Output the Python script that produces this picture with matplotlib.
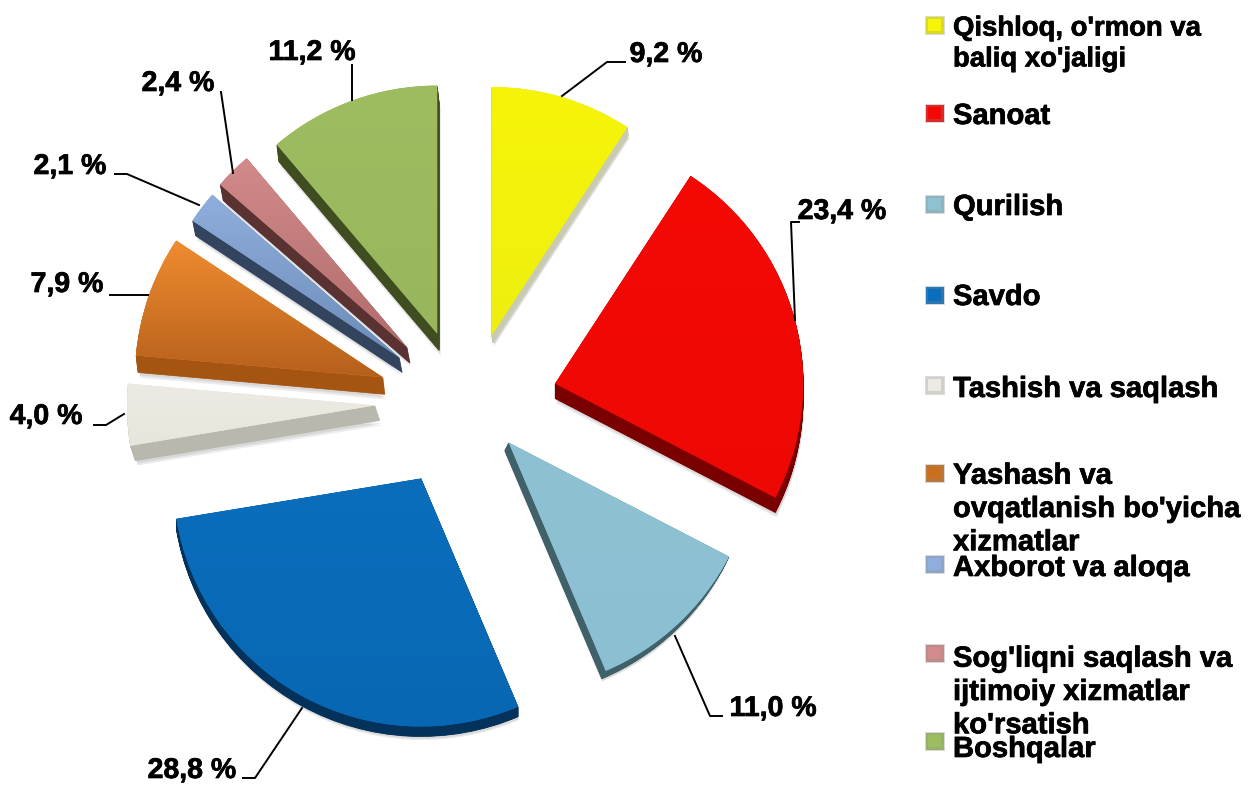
import numpy as np
import matplotlib
matplotlib.use("Agg")
import matplotlib.pyplot as plt
import matplotlib.patheffects as pe
from matplotlib.colors import LinearSegmentedColormap, to_rgb
from matplotlib.patches import Wedge, Rectangle

plt.rcParams["font.family"] = ["Liberation Sans", "DejaVu Sans"]

# data
sectors = ["Qishloq, o'rmon va\nbaliq xo'jaligi", "Sanoat", "Qurilish", "Savdo",
           "Tashish va saqlash", "Yashash va\novqatlanish bo'yicha\nxizmatlar",
           "Axborot va aloqa", "Sog'liqni saqlash va\nijtimoiy xizmatlar\nko'rsatish",
           "Boshqalar"]
shares = [9.2, 23.4, 11.0, 28.8, 4.0, 7.9, 2.1, 2.4, 11.2]
share_labels = ["9,2 %", "23,4 %", "11,0 %", "28,8 %", "4,0 %", "7,9 %", "2,1 %", "2,4 %", "11,2 %"]

# styles
top_colors = ["#F6F508", "#F40804", "#8EC2D3", "#0A6EBD", "#ECEAE2", "#F08C30", "#8FAEDC", "#D28A8A", "#9EBC60"]
low_colors = ["#EFEF10", "#EE0804", "#8BC0D2", "#0867B2", "#E8E6DC", "#B5601C", "#6C8CB8", "#B26C6C", "#98B65C"]
side_colors = ["#C9CBB0", "#7A0000", "#40606A", "#04325A", "#B8B8AC", "#A55412", "#33445F", "#5A3232", "#3F4D20"]
key_colors = ["#F6F508", "#F40804", "#8EC2D3", "#0A6EBD", "#ECEAE2", "#C8701E", "#8FAEDC", "#D28A8A", "#9EBC60"]
explode = [73, 88, 54, 85, 90, 90, 90, 88, 75]
# small shifts of each wedge on top of explode
nudge = [(3, 0), (2, 1), (4, -2), (-6, -1), (-3, -3), (0, 2), (3, 7), (1, 5), (-5, -1)]
depth = [(1, 8), (0, 15), (-4, 8), (0, 10), (5, 15), (2, 17), (3, 15), (3, 16), (2, 17)]
legend_size = [19.8, 21, 21, 21, 21, 21, 21, 21, 21]

W, H = 1249, 785
fig = plt.figure(figsize=(W / 100, H / 100), dpi=100)
ax = fig.add_axes([0, 0, 1, 1])

wedges, _ = ax.pie(shares, explode=explode, radius=248, center=(468, H - 405),
                   startangle=90, counterclock=False, colors=top_colors)
for i, w in enumerate(wedges):
    w.set_center((w.center[0] + nudge[i][0], w.center[1] - nudge[i][1]))
    dx, dy = depth[i]
    # soft shadow
    for extra in (1.12, 1.25):
        ax.add_patch(Wedge((w.center[0] + dx * extra + 1, w.center[1] - dy * extra - 1), w.r, w.theta1, w.theta2,
                           fc="black", ec="none", alpha=0.08, zorder=0.5))
    # extruded side
    for k in np.linspace(1, 0.05, 24):
        ax.add_patch(Wedge((w.center[0] + dx * k, w.center[1] - dy * k), w.r, w.theta1, w.theta2,
                           fc=side_colors[i], ec=side_colors[i], lw=0.5, zorder=1))
    # top face with a vertical gradient
    w.set_zorder(2)
    cm = LinearSegmentedColormap.from_list("w", [top_colors[i], low_colors[i]])
    pts = w.get_path().vertices
    ymin, ymax = pts[:, 1].min(), pts[:, 1].max()
    grad = np.linspace(0, 1, 200)[:, None]
    im = ax.imshow(grad, cmap=cm, extent=(w.center[0] - w.r, w.center[0] + w.r, ymin, ymax),
                   origin="upper", aspect="auto", zorder=3)
    im.set_clip_path(w)

heavy = [pe.withStroke(linewidth=0.5, foreground="black")]

# leader lines
leaders = [[(562, 96), (607, 62), (625, 62)],
           [(795, 320), (791, 222), (799, 222)],
           [(675, 636), (710, 716), (722, 716)],
           [(302, 708), (255, 778), (243, 778)],
           [(124, 414), (106, 425), (94, 425)],
           [(148, 295), (110, 295)],
           [(199, 205), (127, 174), (115, 174)],
           [(233, 173), (221, 92)],
           [(352, 100), (352, 65)]]
label_pos = [(666, 55), (842, 212), (773, 709), (192, 771), (46, 417), (67, 285), (70, 167), (178, 84), (312, 53)]
for i, pts in enumerate(leaders):
    xs = [p[0] for p in pts]
    ys = [H - p[1] for p in pts]
    ax.plot(xs, ys, color="black", lw=1.4, zorder=5)
    ax.text(label_pos[i][0], H - label_pos[i][1], share_labels[i], fontsize=20.5, fontweight="bold",
            ha="center", va="center", zorder=6, path_effects=heavy)

# legend, spaced by hand like the source chart
key_y = [25, 113, 204, 295, 385, 473, 564, 653, 741]
text_y = [44, 116, 207, 297, 389, 509, 568, 692, 749]
for i, name in enumerate(sectors):
    base = np.array(to_rgb(key_colors[i]))
    ax.add_patch(Rectangle((925, H - key_y[i] - 9), 19, 18, fc=0.72 * base + 0.28 * 0.55, ec="#DADADA",
                           lw=0.7, zorder=5))
    ax.add_patch(Rectangle((928, H - key_y[i] - 6), 13, 12, fc=key_colors[i], ec="none", zorder=5.5))
    ax.text(953, H - text_y[i], name, fontsize=legend_size[i], fontweight="bold", ha="left", va="center",
            linespacing=1.24, zorder=6, path_effects=heavy)

ax.set_xlim(0, W)
ax.set_ylim(0, H)
ax.set_aspect("auto")
ax.axis("off")
fig.savefig("out.png", dpi=100)
